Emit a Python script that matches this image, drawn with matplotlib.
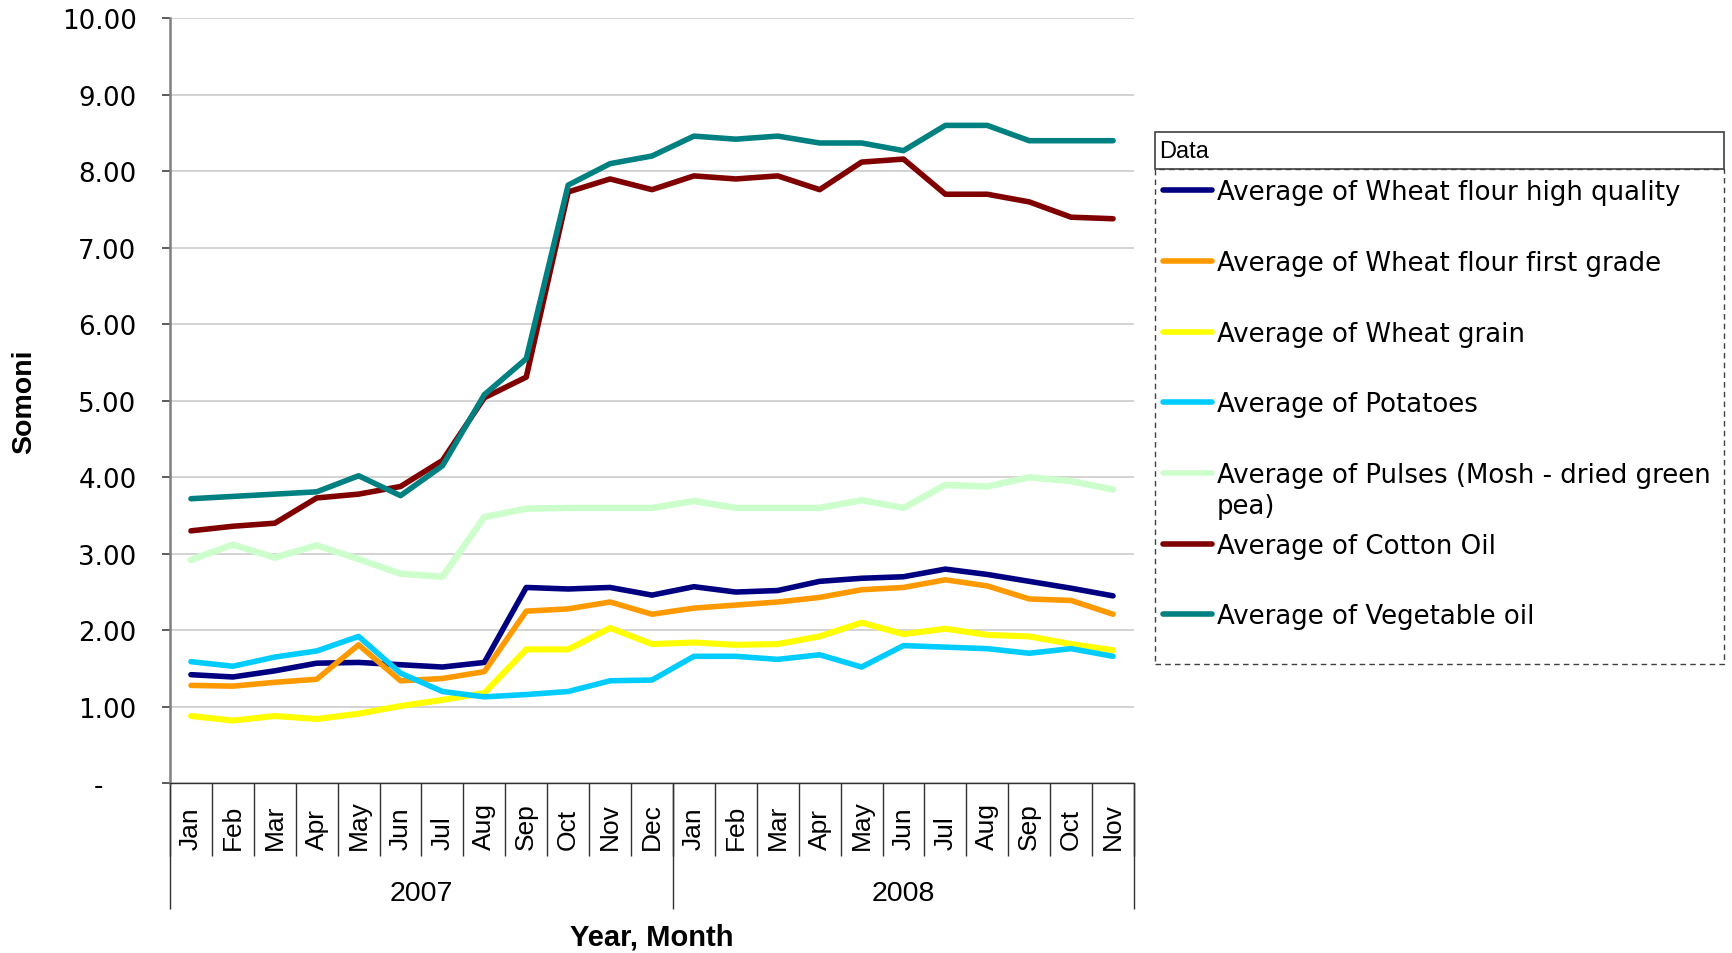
import numpy as np
import matplotlib
matplotlib.use("Agg")
import matplotlib.pyplot as plt
from matplotlib.lines import Line2D
from matplotlib.patches import Rectangle

# --- data (Somoni, monthly averages) ---
years = ["2007", "2008"]
months_per_year = [12, 11]
months = ["Jan", "Feb", "Mar", "Apr", "May", "Jun", "Jul", "Aug", "Sep", "Oct", "Nov", "Dec",
          "Jan", "Feb", "Mar", "Apr", "May", "Jun", "Jul", "Aug", "Sep", "Oct", "Nov"]

wheat_hq = [1.42, 1.39, 1.47, 1.57, 1.58, 1.55, 1.52, 1.58, 2.56, 2.54, 2.56, 2.46,
            2.57, 2.50, 2.52, 2.64, 2.68, 2.70, 2.80, 2.73, 2.64, 2.55, 2.45]
wheat_first = [1.28, 1.27, 1.32, 1.36, 1.81, 1.34, 1.37, 1.46, 2.25, 2.28, 2.37, 2.21,
               2.29, 2.33, 2.37, 2.43, 2.53, 2.56, 2.66, 2.58, 2.41, 2.39, 2.21]
wheat_grain = [0.88, 0.82, 0.88, 0.84, 0.91, 1.01, 1.09, 1.18, 1.75, 1.75, 2.03, 1.82,
               1.84, 1.81, 1.82, 1.92, 2.10, 1.95, 2.02, 1.94, 1.92, 1.82, 1.74]
potatoes = [1.59, 1.53, 1.65, 1.73, 1.92, 1.44, 1.20, 1.13, 1.16, 1.20, 1.34, 1.35,
            1.66, 1.66, 1.62, 1.68, 1.52, 1.80, 1.78, 1.76, 1.70, 1.76, 1.66]
pulses = [2.92, 3.12, 2.95, 3.11, 2.93, 2.74, 2.70, 3.48, 3.59, 3.60, 3.60, 3.60,
          3.69, 3.60, 3.60, 3.60, 3.70, 3.60, 3.90, 3.88, 4.00, 3.95, 3.84]
cotton_oil = [3.30, 3.36, 3.40, 3.73, 3.78, 3.88, 4.22, 5.04, 5.31, 7.73, 7.90, 7.76,
              7.94, 7.90, 7.94, 7.76, 8.12, 8.16, 7.70, 7.70, 7.60, 7.40, 7.38]
veg_oil = [3.72, 3.75, 3.78, 3.81, 4.02, 3.76, 4.15, 5.08, 5.55, 7.82, 8.10, 8.20,
           8.46, 8.42, 8.46, 8.37, 8.37, 8.27, 8.60, 8.60, 8.40, 8.40, 8.40]

series = [
    ("Average of Wheat flour high quality", wheat_hq, "#000080", 4.0),
    ("Average of Wheat flour first grade", wheat_first, "#FF9900", 4.0),
    ("Average of Wheat grain", wheat_grain, "#FFFF00", 4.4),
    ("Average of Potatoes", potatoes, "#00CCFF", 4.0),
    ("Average of Pulses (Mosh - dried green\npea)", pulses, "#CCFFCC", 4.7),
    ("Average of Cotton Oil", cotton_oil, "#800000", 4.0),
    ("Average of Vegetable oil", veg_oil, "#008080", 4.0),
]

W, H = 1733, 954


def fx(px):
    return px / W


def fy(py):
    return 1 - py / H


fig = plt.figure(figsize=(W / 100, H / 100), dpi=100)
ax_l, ax_r, ax_t, ax_b = 170, 1134, 19.3, 784.3
ax = fig.add_axes([fx(ax_l), fy(ax_b), fx(ax_r - ax_l), (ax_b - ax_t) / H])
ax_h = ax_b - ax_t

x = np.arange(len(months)) + 0.5
for label, vals, col, lw in series:
    ax.plot(x, vals, color=col, lw=lw, solid_capstyle="round", solid_joinstyle="round")

ax.set_xlim(0, len(months))
ax.set_ylim(0, 10)

# y axis
ax.set_yticks(range(11))
ax.set_yticklabels(["-    " if v == 0 else "%.2f" % v for v in range(11)],
                   fontsize=18.8, family="DejaVu Sans")
ax.tick_params(axis="y", direction="out", length=5.8, width=1.2, color="#404040", pad=18.3)
ax.grid(axis="y", color="#c8c8c8", lw=1.1)
ax.set_axisbelow(True)
for s in ("top", "right"):
    ax.spines[s].set_visible(False)
ax.spines["left"].set_color("#808080")
ax.spines["left"].set_linewidth(1.8)
ax.spines["bottom"].set_color("#303030")
ax.spines["bottom"].set_linewidth(1.0)

# x axis: months (bottom aligned), separators, years
ax.set_xticks(x)
ax.set_xticklabels(months, rotation=90, rotation_mode="anchor", ha="left", va="center",
                   fontsize=19, family="Liberation Sans")
ax.tick_params(axis="x", length=0, pad=(850 - ax_b) * 0.72)

xt = ax.get_xaxis_transform()
bounds = np.arange(len(months) + 1)
ax.vlines(bounds, (ax_b - 857) / ax_h, 0, transform=xt, clip_on=False, color="#303030", lw=1.0)
year_bounds = np.concatenate([[0], np.cumsum(months_per_year)])
ax.vlines(year_bounds, (ax_b - 910) / ax_h, 0, transform=xt, clip_on=False, color="#303030", lw=1.0)
for i, yr in enumerate(years):
    cx = (year_bounds[i] + year_bounds[i + 1]) / 2
    ax.text(cx, (ax_b - 894) / ax_h, yr, transform=xt, ha="center", va="center",
            fontsize=20.5, family="Liberation Sans")

fig.text(fx((ax_l + ax_r) / 2), fy(938), "Year, Month", ha="center", va="center",
         fontsize=21, fontweight="bold", family="Liberation Sans")
fig.text(fx(24), fy((ax_t + ax_b) / 2), "Somoni", ha="center", va="center", rotation=90,
         fontsize=20.5, fontweight="bold", family="Liberation Sans")

# legend drawn by hand (Excel pivot style)
lg_l, lg_r, lg_t, lg_hb, lg_b = 1155, 1724, 133, 170, 665
fig.patches.append(Rectangle((fx(lg_l), fy(lg_b)), fx(lg_r - lg_l), (lg_b - lg_hb) / H,
                             transform=fig.transFigure, fill=False, ec="#404040",
                             lw=1.0, ls=(0, (4, 3))))
fig.patches.append(Rectangle((fx(lg_l), fy(lg_hb)), fx(lg_r - lg_l), (lg_hb - lg_t) / H,
                             transform=fig.transFigure, fill=False, ec="#404040", lw=1.2))
fig.text(fx(1159), fy((lg_t + lg_hb) / 2), "Data", ha="left", va="center",
         fontsize=17, family="Liberation Sans")
row0, row_step, line_h = 191.2, 70.7, 31
for i, (label, vals, col, lw) in enumerate(series):
    ry = row0 + i * row_step
    fig.add_artist(Line2D([fx(1163), fx(1212)], [fy(ry), fy(ry)], transform=fig.transFigure,
                          color=col, lw=4.0, solid_capstyle="round"))
    for j, part in enumerate(label.split("\n")):
        fig.text(fx(1217), fy(ry + 9 + j * line_h), part, ha="left", va="baseline",
                 fontsize=18.7, family="DejaVu Sans")

fig.savefig("out.png", dpi=100)
